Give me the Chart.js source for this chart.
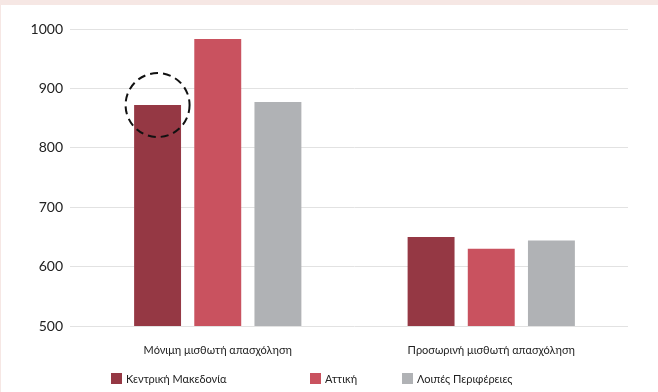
<!DOCTYPE html>
<html>
<head>
<meta charset="utf-8">
<script src="https://cdn.jsdelivr.net/npm/chart.js@4/dist/chart.umd.min.js"></script>
<style>
  html, body { margin: 0; padding: 0; }
  body { width: 658px; height: 392px; background: #f6e7e4; overflow: hidden; position: relative; }
  .box { position: absolute; left: 1px; top: 5px; width: 670px; height: 400px; background: #fff; }
  #wrap { position: absolute; left: 0; top: 0; width: 658px; height: 392px; }
  #legend { position: absolute; top: 372px; left: 0; width: 658px; height: 14px;
    font: 11px Lato, "Noto Sans", sans-serif; color: #222; }
  #legend span.item { position: absolute; top: 0; display: flex; align-items: center; white-space: nowrap; }
  #legend span.sw { display: inline-block; width: 11px; height: 11px; margin-right: 4px; }
</style>
</head>
<body>
<div class="box"></div>
<div id="wrap"><canvas id="chart-apasxolisi"></canvas></div>
<div id="legend"></div>
<script>
const categories = ['Μόνιμη μισθωτή απασχόληση', 'Προσωρινή μισθωτή απασχόληση'];
const seriesNames = ['Κεντρική Μακεδονία', 'Αττική', 'Λοιπές Περιφέρειες'];
const kentrikiMakedonia = [872, 650];
const attiki = [983, 630];
const loipesPerifereies = [877, 644];
const yTicks = [500, 600, 700, 800, 900, 1000];

const colors = ['#953844', '#c9525f', '#b0b2b5'];
const legendX = [111, 310, 402]; // θέσεις υπομνήματος

// κύκλος γύρω από την πρώτη μπάρα
const circlePlugin = {
  id: 'circle',
  afterDatasetsDraw(chart) {
    const bar = chart.getDatasetMeta(0).data[0];
    const ctx = chart.ctx;
    ctx.save();
    ctx.setLineDash([8, 5]);
    ctx.lineWidth = 2;
    ctx.strokeStyle = '#111';
    ctx.beginPath();
    ctx.arc(bar.x, bar.y, 32, 0, Math.PI * 2);
    ctx.stroke();
    ctx.restore();
  }
};

const dataApasxolisi = {
  labels: categories,
  datasets: [kentrikiMakedonia, attiki, loipesPerifereies].map((vals, i) => ({
    label: seriesNames[i],
    data: vals,
    backgroundColor: colors[i],
    borderWidth: 0,
    categoryPercentage: 0.66,
    barPercentage: 0.78
  }))
};

const configApasxolisi = {
  type: 'bar',
  data: dataApasxolisi,
  options: {
    responsive: true,
    maintainAspectRatio: false,
    animation: false,
    layout: { padding: { top: 29, right: 30, bottom: 26, left: 0 } },
    plugins: {
      legend: { display: false },
      tooltip: { enabled: false }
    },
    scales: {
      x: {
        grid: { display: false },
        border: { display: false },
        ticks: { color: '#222', font: { family: 'Lato', size: 11 }, padding: 10 },
        afterFit: (s) => { s.height = 40; }
      },
      y: {
        min: 500,
        max: 1000,
        afterBuildTicks: (s) => { s.ticks = yTicks.map(v => ({ value: v })); },
        grid: { color: '#e2e2e2', lineWidth: 1, tickLength: 11 },
        border: { display: false },
        ticks: {
          color: '#222',
          font: { family: 'Lato', size: 14 },
          padding: 7,
          callback: (v) => String(v) // χωρίς διαχωριστικό χιλιάδων
        },
        afterFit: (s) => { s.width = 81; }
      }
    }
  },
  plugins: [circlePlugin]
};

const myChartApasxolisi = new Chart(
  document.getElementById('chart-apasxolisi'),
  configApasxolisi
);

const legend = document.getElementById('legend');
seriesNames.forEach((name, i) => {
  const item = document.createElement('span');
  item.className = 'item';
  item.style.left = legendX[i] + 'px';
  item.innerHTML = '<span class="sw" style="background:' + colors[i] + '"></span>' + name;
  legend.appendChild(item);
});
</script>
</body>
</html>
